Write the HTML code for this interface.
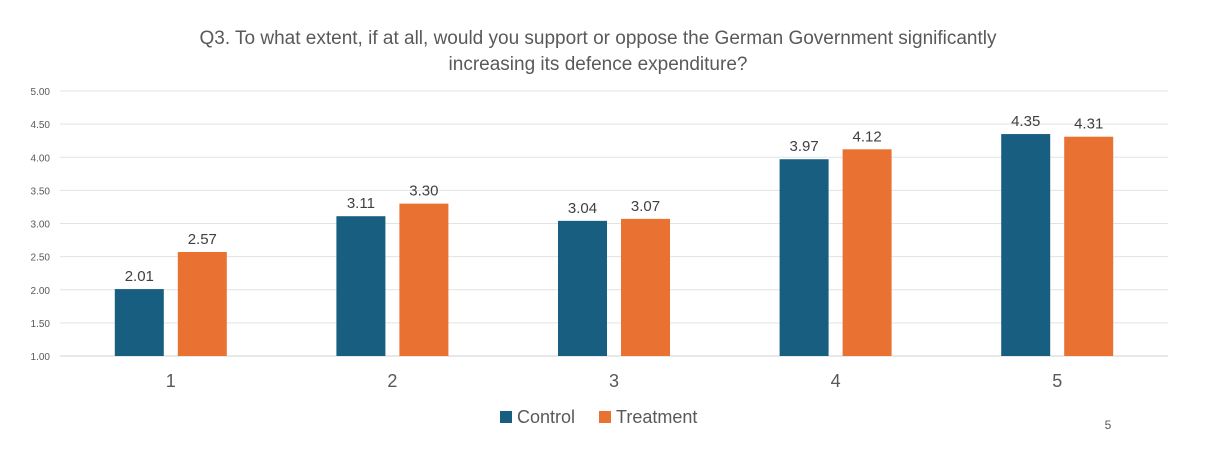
<!DOCTYPE html>
<html><head><meta charset="utf-8"><style>
body{margin:0;background:#fff;width:1219px;height:469px;overflow:hidden;font-family:"Liberation Sans",sans-serif}
</style></head><body>
<svg width="1219" height="469">
<text x="598" y="44" text-anchor="middle" font-size="19" fill="#595959">Q3. To what extent, if at all, would you support or oppose the German Government significantly</text>
<text x="598" y="70" text-anchor="middle" font-size="19" fill="#595959">increasing its defence expenditure?</text>
<g id="grid"></g><g id="bars"></g>
<rect x="500" y="411" width="12" height="12" fill="#175E80"/>
<text x="517" y="423" font-size="18" fill="#595959">Control</text>
<rect x="599" y="411" width="12" height="12" fill="#E97132"/>
<text x="616" y="423" font-size="18" fill="#595959">Treatment</text>
<text x="1108" y="429" text-anchor="middle" font-size="12" fill="#595959">5</text>
</svg>
<script>
const categories=["1","2","3","4","5"];
const control=[2.01,3.11,3.04,3.97,4.35];
const treatment=[2.57,3.30,3.07,4.12,4.31];
const ticks=["1.00","1.50","2.00","2.50","3.00","3.50","4.00","4.50","5.00"];
const NS="http://www.w3.org/2000/svg";
const x0=60,x1=1168,yMin=1,yMax=5,yTop=91,yBot=356;
const y=v=>yBot-(v-yMin)/(yMax-yMin)*(yBot-yTop);
const band=(x1-x0)/categories.length;
const cx=i=>x0+band*(i+0.5);
function mk(t,a,p){const e=document.createElementNS(NS,t);for(const k in a)e.setAttribute(k,a[k]);p.appendChild(e);return e;}
const g=document.getElementById('grid'),b=document.getElementById('bars');
ticks.forEach(t=>{const v=parseFloat(t);
const l=mk('line',{x1:x0,x2:x1,y1:y(v),y2:y(v),stroke:v===1?'#d0d0d0':'#e3e3e3','stroke-width':1},g);


const tx=mk('text',{x:50,y:y(v)+4,'text-anchor':'end','font-size':10,fill:'#595959'},g);tx.textContent=t;

});
categories.forEach((c,i)=>{
const bw=49,gap=14;
const xc=cx(i)-gap/2-bw,xt=cx(i)+gap/2;
const r1=mk('rect',{x:xc,y:y(control[i]),width:bw,height:yBot-y(control[i]),fill:'#175E80'},b);


const r2=mk('rect',{x:xt,y:y(treatment[i]),width:bw,height:yBot-y(treatment[i]),fill:'#E97132'},b);


const l1=mk('text',{x:xc+bw/2,y:y(control[i])-8,'text-anchor':'middle','font-size':15,fill:'#404040'},b);l1.textContent=control[i].toFixed(2);


const l2=mk('text',{x:xt+bw/2,y:y(treatment[i])-8,'text-anchor':'middle','font-size':15,fill:'#404040'},b);l2.textContent=treatment[i].toFixed(2);


const xl=mk('text',{x:cx(i),y:387,'text-anchor':'middle','font-size':18,fill:'#595959'},b);xl.textContent=c;


});
</script>
</body></html>
